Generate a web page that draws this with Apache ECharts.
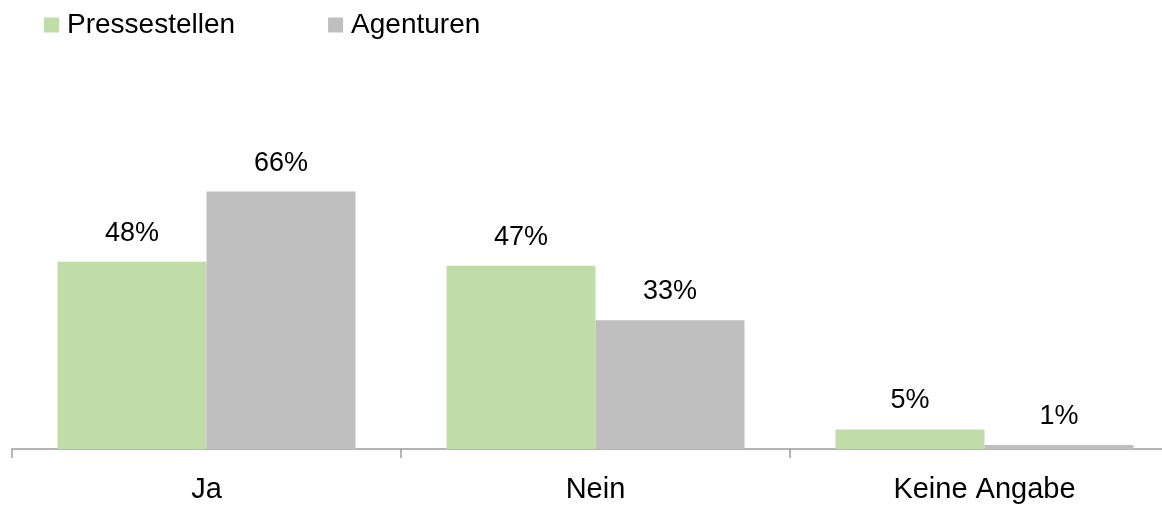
<!DOCTYPE html>
<html>
<head>
<meta charset="utf-8">
<script src="https://cdn.jsdelivr.net/npm/echarts@6/dist/echarts.min.js"></script>
<style>
  html, body { margin: 0; padding: 0; background: #fff; }
  #chart { width: 1162px; height: 507px; }
</style>
</head>
<body>
<div id="chart"></div>
<script>
// Survey answers, percentage per group
const categories = ['Ja', 'Nein', 'Keine Angabe'];
const pressestellen = [48, 47, 5];
const agenturen = [66, 33, 1];

const font = '"Liberation Sans", Arial, sans-serif';

const chart = echarts.init(document.getElementById('chart'), null, { renderer: 'canvas' });

const barLabel = {
  show: true,
  position: 'top',
  distance: 15,
  formatter: '{c}%',
  fontFamily: font,
  fontSize: 27,
  color: '#000'
};

chart.setOption({
  animation: false,
  legend: {
    left: 44,
    top: 11,
    padding: 0,
    icon: 'rect',
    itemWidth: 15,
    itemHeight: 15,
    itemGap: 93,
    textStyle: { fontFamily: font, fontSize: 28, color: '#000', padding: [4, 0, 0, 3] },
    data: ['Pressestellen', 'Agenturen']
  },
  // the third category runs past the right edge of the canvas
  grid: { left: 12, width: 1167, top: 59, bottom: 58, outerBoundsMode: 'none' },
  xAxis: {
    type: 'category',
    data: categories,
    boundaryGap: true,
    axisLine: { lineStyle: { color: '#9d9d9d', width: 1.5 } },
    axisTick: { show: true, length: 9, lineStyle: { color: '#9d9d9d', width: 1.5 } },
    axisLabel: { margin: 26, fontFamily: font, fontSize: 29, color: '#000' }
  },
  yAxis: {
    type: 'value',
    min: 0,
    max: 100,
    show: false,
    splitLine: { show: false }
  },
  series: [
    {
      name: 'Pressestellen',
      type: 'bar',
      data: pressestellen,
      barWidth: '38.3%',
      barGap: '0%',
      itemStyle: { color: '#C0DCA9' },
      label: barLabel
    },
    {
      name: 'Agenturen',
      type: 'bar',
      data: agenturen,
      barWidth: '38.3%',
      itemStyle: { color: '#BFBFBF' },
      label: barLabel
    }
  ]
});
</script>
</body>
</html>
